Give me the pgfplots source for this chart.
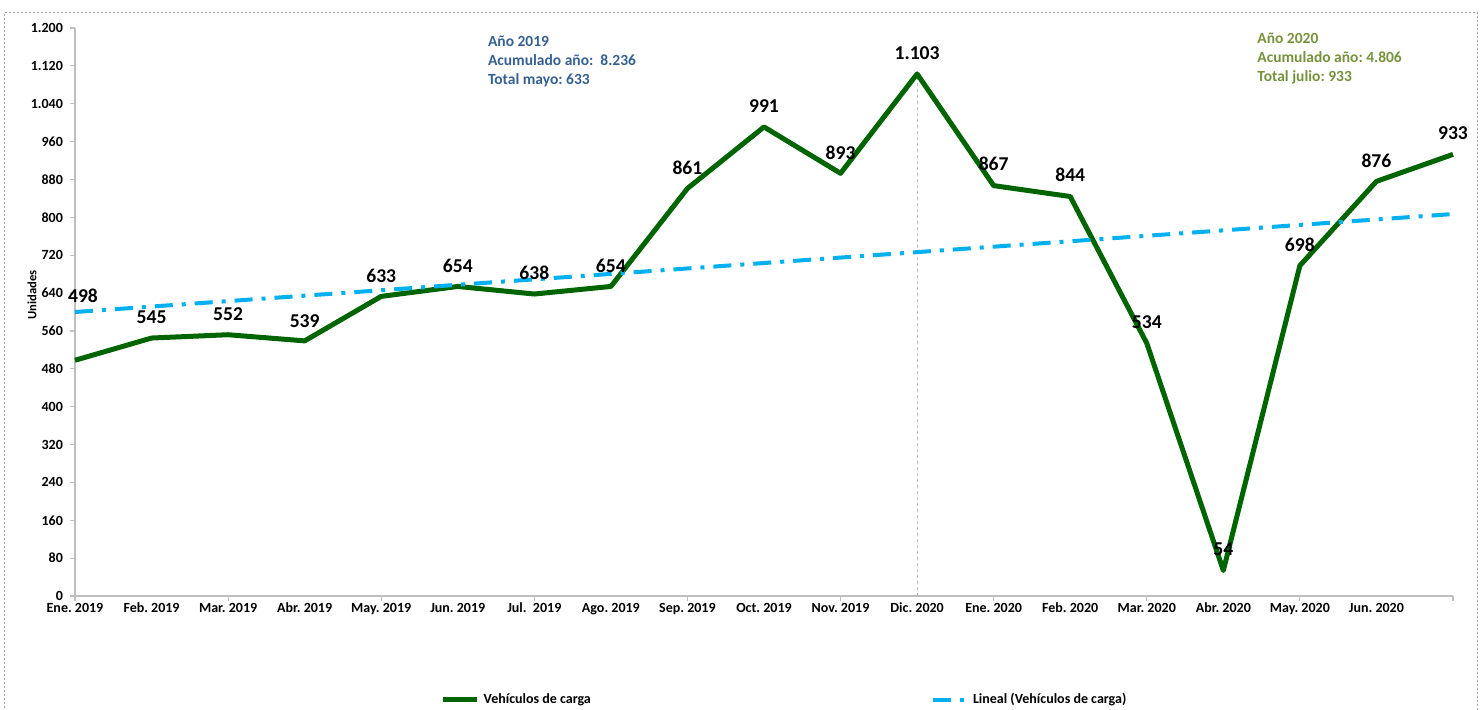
\documentclass[border=0pt]{standalone}
\usepackage{pgfplots}
\pgfplotsset{compat=1.18}
\usepackage{pgfplotstable}
\usepackage{fontspec}
\setmainfont{Carlito}
\frenchspacing

\definecolor{serie}{RGB}{0,100,0}
\definecolor{tend}{RGB}{0,176,240}
\definecolor{azul}{RGB}{54,96,146}
\definecolor{oliva}{RGB}{118,146,60}
\definecolor{eje}{RGB}{191,191,191}

% month index, units, label shift (pt)
\pgfplotstableread{
x y dx dy
0 498 4 32
1 545 0 10.5
2 552 0 10.5
3 539 0 10
4 633 0 10.5
5 654 0 10.5
6 638 0 10.5
7 654 0 10.5
8 861 0 10.5
9 991 0 10.5
10 893 0 10.5
11 1103 0 10.5
12 867 0 11
13 844 0 11
14 534 0 10.5
15 54 0 10.5
16 698 0 10.5
17 876 0 10.5
18 933 0 10.5
}\carga

% linear trend of the series
\pgfplotstableread{
x y
0 600.0
18 807.0
}\lineal

\begin{document}
\begin{tikzpicture}
\useasboundingbox (-37.5pt,-56.5pt) rectangle (704.5pt,298pt);
\draw[gray!70, line width=0.5pt, dash pattern=on 1pt off 1pt] (-35pt,-80pt) rectangle (701pt,292pt);
\begin{axis}[
  scale only axis, width=689pt, height=284pt,
  xmin=0, xmax=18, ymin=0, ymax=1200,
  axis lines*=left,
  axis line style={eje, line width=0.6pt},
  tick style={eje, line width=0.6pt},
  tick align=outside, major tick length=2.5pt,
  ytick={0,80,...,1200},
  xtick={0,2,...,18}, xticklabels={},
  extra x ticks={0,1,...,17},
  extra x tick labels={Ene. 2019, Feb. 2019, Mar. 2019, Abr. 2019, May. 2019, Jun. 2019, Jul.~ 2019, Ago. 2019, Sep. 2019, Oct. 2019, Nov. 2019, Dic. 2020, Ene. 2020, Feb. 2020, Mar. 2020, Abr. 2020, May. 2020, Jun. 2020},
  extra x tick style={major tick length=0pt},
  /pgf/number format/.cd, 1000 sep={.}, assume math mode=true, /pgfplots/.cd,
  ticklabel style={font=\bfseries\fontsize{7}{8}\selectfont, text=black},
  ylabel={Unidades},
  ylabel style={font=\bfseries\fontsize{6.3}{7}\selectfont, at={(axis description cs:-0.0312,0.53)}, anchor=center},
  clip=false,
  legend columns=2,
  legend style={draw=none, fill=none, inner sep=0pt, at={(axis description cs:0.265,-0.183)}, anchor=west,
    font=\bfseries\fontsize{7}{8}\selectfont,
    /tikz/every even column/.append style={column sep=168pt}},
]
\addplot[forget plot, gray!55, line width=0.5pt, dash pattern=on 1.5pt off 1.5pt] coordinates {(11,0) (11,1103)};
\addplot[serie, line width=2.5pt, line join=round, no marks] table[x=x, y=y] {\carga};
\addlegendentry{Vehículos de carga}
\addplot[tend, line width=2pt, no marks, dash pattern=on 9pt off 4.5pt on 2pt off 4.5pt] table[x=x, y=y] {\lineal};
\addlegendentry{Lineal (Vehículos de carga)}
\addplot[forget plot, draw=none, no marks,
  visualization depends on={\thisrow{dx} \as \dx},
  visualization depends on={\thisrow{dy} \as \dy},
  nodes near coords,
  nodes near coords style={anchor=center, xshift=\dx pt, yshift=\dy pt, text=black,
    font=\bfseries\fontsize{9.8}{11}\selectfont}] table[x=x, y=y] {\carga};

\node[anchor=north west, align=left, inner sep=0pt, text=azul, font=\bfseries\fontsize{7.75}{9.5}\selectfont]
  at (axis cs:5.39,1185) {Año 2019\\Acumulado año:~ 8.236\\Total mayo: 633};
\node[anchor=north west, align=left, inner sep=0pt, text=oliva, font=\bfseries\fontsize{7.75}{9.5}\selectfont]
  at (axis cs:15.44,1191) {Año 2020\\Acumulado año: 4.806\\Total julio: 933};
\end{axis}
\end{tikzpicture}
\end{document}
